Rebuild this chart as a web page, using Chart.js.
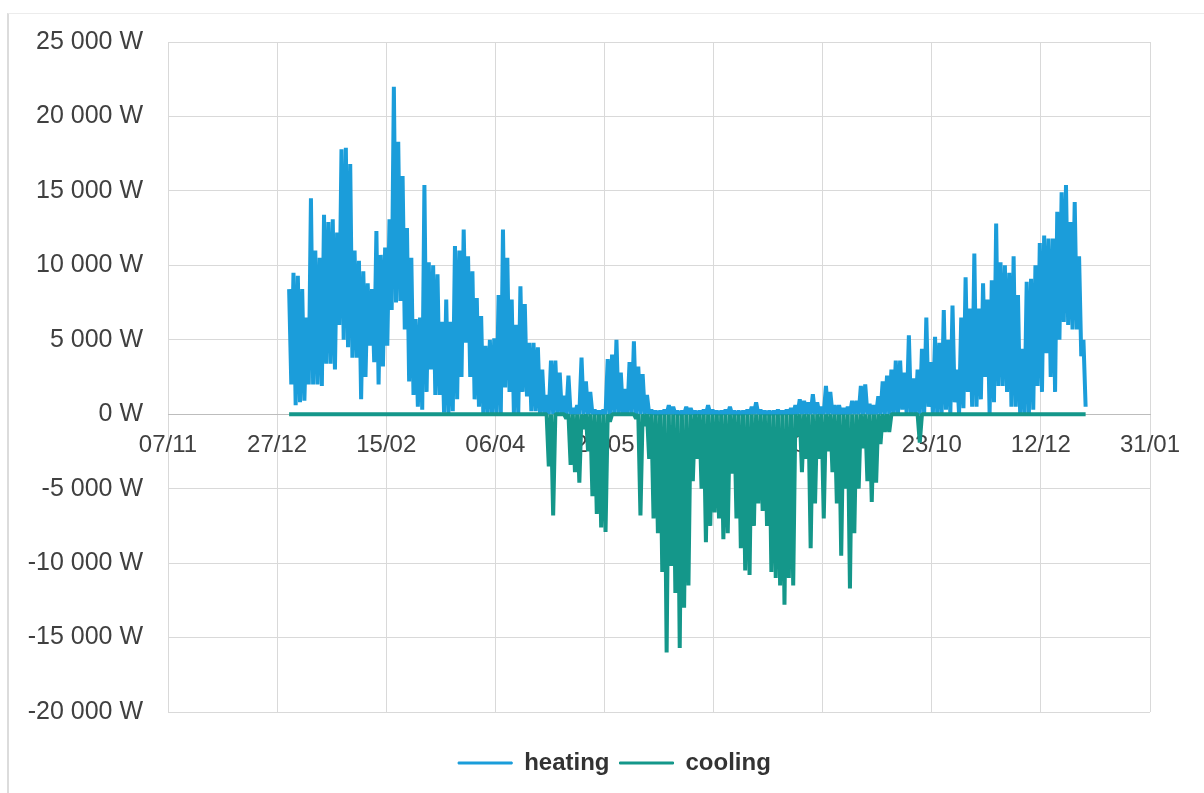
<!DOCTYPE html>
<html>
<head>
<meta charset="utf-8">
<title>heating / cooling</title>
<script src="https://cdn.jsdelivr.net/npm/chart.js@4.4.1/dist/chart.umd.min.js"></script>
<style>
  html, body { margin: 0; padding: 0; background: #fff; }
  #wrap { position: relative; width: 1204px; height: 793px; overflow: hidden; }
  #frame { position: absolute; left: 7px; top: 13px; right: 0; bottom: 0; border-left: 2px solid #dcdcdc; border-top: 1px solid #ececec; }
  canvas { position: absolute; left: 0; top: 0; }
</style>
</head>
<body>
<div id="wrap"><div id="frame"></div><canvas id="chart" width="1204" height="793"></canvas></div>
<script>
// x axis counts days from 07/11, one tick every 50 days
const xTickLabels = ['07/11', '27/12', '15/02', '06/04', '26/05', '15/07', '03/09', '23/10', '12/12', '31/01'];
const firstDay = 55;   // 01/01 is 55 days after 07/11
const stepDays = 2;    // one high/low pair every 2 days

// heating: upper and lower envelope, W
const heatingHigh = [
    8400, 9500, 9300, 8400, 6500, 14500, 11000, 10500, 13400, 12900,
    13100, 12200, 17800, 17900, 16800, 11000, 10300, 9600, 8800, 8400,
    12300, 10700, 11200, 13100, 22000, 18300, 16000, 12500, 10500, 6400,
    6500, 15400, 10200, 10000, 9400, 6200, 7700, 6200, 11300, 11000,
    12400, 10600, 9600, 7800, 6600, 4600, 5000, 5100, 8000, 12400,
    10500, 7700, 6000, 8600, 7400, 4800, 4800, 4500, 3000, 1300,
    3600, 3600, 2800, 1250, 2600, 400, 600, 3800, 2200, 1500,
    300, 200, 300, 3700, 4000, 5000, 2800, 1700, 3500, 4900,
    3200, 2700, 1300, 300, 200, 200, 300, 600, 500, 200,
    200, 500, 400, 200, 200, 300, 600, 300, 200, 200,
    300, 500, 200, 200, 200, 300, 500, 800, 300, 200,
    200, 200, 300, 200, 300, 400, 600, 1000, 900, 800,
    1350, 800, 500, 1900, 1500, 600, 600, 400, 500, 900,
    900, 1900, 2000, 700, 600, 1200, 2200, 2600, 3000, 3600,
    3600, 2800, 5300, 2400, 3000, 4400, 6500, 3500, 5200, 4800,
    7000, 5000, 7300, 3000, 6500, 9200, 7100, 10800, 7100, 8800,
    7700, 9000, 12800, 10200, 10000, 9500, 10600, 8000, 4400, 8900,
    9100, 10000, 11500, 12000, 11800, 11800, 13600, 14900, 15400, 12900,
    14250, 10600, 5000
];
const heatingLow = [
    2000, 600, 800, 900, 2000, 2000, 2000, 1900, 3400, 3400,
    3000, 6000, 5000, 4500, 3800, 3800, 1000, 2500, 4600, 3500,
    2000, 3200, 4600, 7000, 7500, 7600, 5700, 2200, 1300, 500,
    300, 1500, 3000, 1300, 1300, 100, 0, 200, 1000, 2500,
    4800, 2500, 1000, 500, 0, 0, 0, 0, 0, 1800,
    1500, 0, 0, 1500, 1200, 200, 200, 0, 0, 0,
    0, 0, 0, 0, 0, 0, 0, 0, 0, 0,
    0, 0, 0, 0, 0, 0, 0, 0, 0, 0,
    0, 0, 0, 0, 0, 0, 0, 0, 0, 0,
    0, 0, 0, 0, 0, 0, 0, 0, 0, 0,
    0, 0, 0, 0, 0, 0, 0, 0, 0, 0,
    0, 0, 0, 0, 0, 0, 0, 0, 0, 0,
    0, 0, 0, 0, 0, 0, 0, 0, 0, 0,
    0, 0, 0, 0, 0, 0, 0, 0, 0, 0,
    300, 0, 0, 0, 0, 0, 500, 0, 0, 0,
    300, 0, 800, 0, 400, 1500, 500, 500, 1000, 2500,
    0, 800, 1900, 1900, 1500, 500, 500, 0, 0, 0,
    300, 1900, 1500, 4100, 2500, 1500, 5000, 6200, 6000, 5700,
    5700, 3900, 500
];

// cooling: upper (near zero) and lower envelope, W
const coolingHigh = [
    0, 0, 0, 0, 0, 0, 0, 0, 0, 0,
    0, 0, 0, 0, 0, 0, 0, 0, 0, 0,
    0, 0, 0, 0, 0, 0, 0, 0, 0, 0,
    0, 0, 0, 0, 0, 0, 0, 0, 0, 0,
    0, 0, 0, 0, 0, 0, 0, 0, 0, 0,
    0, 0, 0, 0, 0, 0, 0, 0, 0, 0,
    0, 0, 0, 0, 0, 0, 0, 0, 0, 0,
    0, 0, 0, 0, 0, 0, 0, 0, 0, 0,
    0, 0, 0, 0, 0, 0, 0, 0, 0, 0,
    0, 0, 0, 0, 0, 0, 0, 0, 0, 0,
    0, 0, 0, 0, 0, 0, 0, 0, 0, 0,
    0, 0, 0, 0, 0, 0, 0, 0, 0, 0,
    0, 0, 0, 0, 0, 0, 0, 0, 0, 0,
    0, 0, 0, 0, 0, 0, 0, 0, 0, 0,
    0, 0, 0, 0, 0, 0, 0, 0, 0, 0,
    0, 0, 0, 0, 0, 0, 0, 0, 0, 0,
    0, 0, 0, 0, 0, 0, 0, 0, 0, 0,
    0, 0, 0, 0, 0, 0, 0, 0, 0, 0,
    0, 0, 0
];
const coolingLow = [
    0, 0, 0, 0, 0, 0, 0, 0, 0, 0,
    0, 0, 0, 0, 0, 0, 0, 0, 0, 0,
    0, 0, 0, 0, 0, 0, 0, 0, 0, 0,
    0, 0, 0, 0, 0, 0, 0, 0, 0, 0,
    0, 0, 0, 0, 0, 0, 0, 0, 0, 0,
    0, 0, 0, 0, 0, 0, 0, 0, 0, -3500,
    -6800, 0, 0, -300, -3400, -3900, -4600, -1000, -2500, -5500,
    -6700, -7600, -7900, -500, 0, 0, 0, 0, 0, -300,
    -6800, -800, -3000, -7000, -8000, -10600, -16000, -10200, -12000, -15700,
    -13000, -11500, -4500, -3000, -5000, -8600, -7500, -6600, -7000, -8400,
    -8000, -4000, -7000, -9000, -10500, -10800, -7500, -6000, -6500, -7500,
    -10600, -11000, -11500, -12800, -11000, -11500, -1500, -3900, -3000, -9000,
    -6000, -3000, -7000, -2500, -3900, -6000, -9500, -5000, -11700, -8000,
    -5000, -2300, -4500, -5900, -4600, -2000, -1200, -1200, 0, 0,
    0, 0, 0, 0, -1900, 0, 0, 0, 0, 0,
    0, 0, 0, 0, 0, 0, 0, 0, 0, 0,
    0, 0, 0, 0, 0, 0, 0, 0, 0, 0,
    0, 0, 0, 0, 0, 0, 0, 0, 0, 0,
    0, 0, 0
];

const fontFamily = "'Liberation Sans', Arial, sans-serif";
const tickColor = '#404040';
const gridColor = '#d9d9d9';

// hourly data swings between day high and day low, drawn as a zigzag
function zigzag(highs, lows) {
    const pts = [];
    highs.forEach((h, i) => {
        const d = firstDay + i * stepDays;
        pts.push({ x: d + 0.5, y: h });
        pts.push({ x: d + 1.5, y: lows[i] });
    });
    return pts;
}

// 25000 -> "25 000 W"
function watt(v) {
    const s = String(Math.abs(v)).replace(/\B(?=(\d{3})+(?!\d))/g, ' ');
    return (v < 0 ? '-' : '') + s + ' W';
}

new Chart(document.getElementById('chart'), {
    type: 'line',
    data: {
        datasets: [
            {
                label: 'heating',
                data: zigzag(heatingHigh, heatingLow),
                borderColor: '#1b9dda',
                backgroundColor: '#1b9dda',
                borderWidth: 4,
                borderJoinStyle: 'bevel',
                pointRadius: 0,
                xAxisID: 'x',
                yAxisID: 'y',
                order: 2
            },
            {
                label: 'cooling',
                data: zigzag(coolingHigh, coolingLow),
                borderColor: '#14978a',
                backgroundColor: '#14978a',
                borderWidth: 4,
                borderJoinStyle: 'bevel',
                pointRadius: 0,
                xAxisID: 'x',
                yAxisID: 'y',
                order: 1
            }
        ]
    },
    options: {
        responsive: false,
        animation: false,
        layout: { padding: { left: 25, right: 0, top: 42, bottom: 8 } },
        plugins: {
            legend: {
                position: 'bottom',
                labels: {
                    boxWidth: 54,
                    boxHeight: 2,
                    padding: 10,
                    color: '#333',
                    font: { family: fontFamily, size: 24, weight: 'bold' },
                    // thinner stroke than the data lines
                    generateLabels: chart => Chart.defaults.plugins.legend.labels.generateLabels(chart)
                        .map(item => Object.assign(item, { lineWidth: 1 })),
                    sort: (a, b) => a.datasetIndex - b.datasetIndex
                }
            },
            tooltip: { enabled: false }
        },
        scales: {
            x: {
                type: 'linear',
                position: { y: 0 },
                min: 0,
                max: 450,
                ticks: {
                    stepSize: 50,
                    autoSkip: false,
                    maxRotation: 0,
                    padding: 17,
                    color: tickColor,
                    font: { family: fontFamily, size: 24 },
                    callback: v => xTickLabels[v / 50]
                },
                grid: { color: gridColor, drawTicks: false },
                border: { color: '#bdbdbd' }
            },
            y: {
                min: -20000,
                max: 25000,
                ticks: {
                    stepSize: 5000,
                    padding: 25,
                    color: tickColor,
                    font: { family: fontFamily, size: 25 },
                    callback: watt
                },
                grid: { color: gridColor, drawTicks: false },
                border: { display: false },
                afterFit: s => { s.width = 143; }
            },
            // spacers only, they keep the plot box where the picture has it
            y2: {
                position: 'right',
                grid: { display: false },
                border: { display: false },
                ticks: { display: false },
                afterFit: s => { s.width = 54; }
            },
            xs: {
                type: 'linear',
                position: 'bottom',
                grid: { display: false },
                border: { display: false },
                ticks: { display: false },
                afterFit: s => { s.height = 29; }
            }
        }
    }
});
</script>
</body>
</html>
